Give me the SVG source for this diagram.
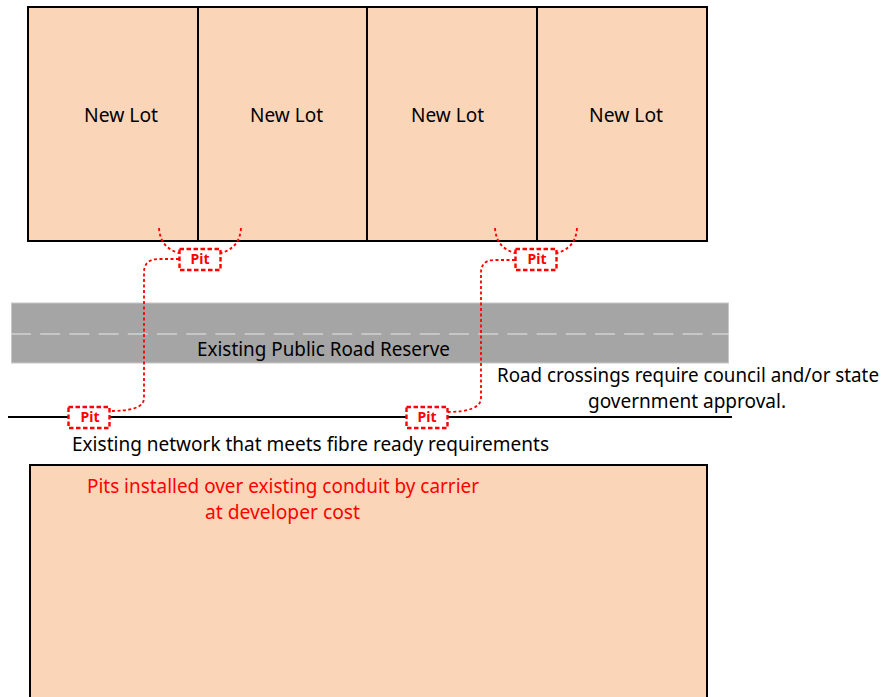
<svg xmlns="http://www.w3.org/2000/svg" width="882" height="697" viewBox="0 0 882 697">
<style>
.lot{fill:#fbd5b7;stroke:#000;stroke-width:2}
.t{font-family:"Noto Sans","Liberation Sans",sans-serif;font-size:20px;fill:#000}
.n{font-size:19px}
.r{fill:#f00}
.pit{fill:#fff;stroke:#f00;stroke-width:2.4;stroke-dasharray:4.500 2.500}
.pt{font-family:"Noto Sans","Liberation Sans",sans-serif;font-size:14px;font-weight:700;fill:#f00;text-anchor:middle}
.c{fill:none;stroke:#f00;stroke-width:1.8;stroke-dasharray:3 2.500}
</style>
<g id="lots">
<g id="lot1"><rect class="lot" x="28" y="7" width="170" height="234"/><text class="t" x="84" y="122" textLength="74" lengthAdjust="spacingAndGlyphs">New Lot</text></g>
<g id="lot2"><rect class="lot" x="198" y="7" width="169" height="234"/><text class="t" x="250" y="122" textLength="73" lengthAdjust="spacingAndGlyphs">New Lot</text></g>
<g id="lot3"><rect class="lot" x="367" y="7" width="170" height="234"/><text class="t" x="411" y="122" textLength="73" lengthAdjust="spacingAndGlyphs">New Lot</text></g>
<g id="lot4"><rect class="lot" x="537" y="7" width="170" height="234"/><text class="t" x="589" y="122" textLength="74" lengthAdjust="spacingAndGlyphs">New Lot</text></g>
</g>
<g id="road">
<rect x="11.500" y="303" width="717" height="60" fill="#a5a5a5" stroke="#c8c8c8" stroke-width="1"/>
<line x1="11" y1="334" x2="729" y2="334" stroke="#e8e8e8" stroke-width="1" stroke-dasharray="20 9.200"/>
<text class="t" x="197" y="356" textLength="253" lengthAdjust="spacingAndGlyphs">Existing Public Road Reserve</text>
</g>
<g id="network">
<line x1="8" y1="417" x2="732" y2="417" stroke="#000" stroke-width="2"/>
<text class="t" x="72" y="451" textLength="477" lengthAdjust="spacingAndGlyphs">Existing network that meets fibre ready requirements</text>
</g>
<g id="connectors">
<path class="c" d="M159 228C160 243 168 250 179 253"/>
<path class="c" d="M241 228C240 243 232 250 221 253"/>
<path class="c" d="M179 259H158C149 259 144 264 144 272V398C144 408 130 411 110 411"/>
<path class="c" d="M495 228C496 243 504 250 515 253"/>
<path class="c" d="M577 228C576 243 568 250 557 253"/>
<path class="c" d="M515 260H494C485 260 481 265 481 273V398C481 408 467 412 448 412"/>
</g>
<g id="pit1"><rect class="pit" x="179.500" y="249" width="41" height="21"/><text class="pt" x="200" y="264">Pit</text></g>
<g id="pit2"><rect class="pit" x="515.500" y="249" width="41" height="21"/><text class="pt" x="537" y="264">Pit</text></g>
<g id="pit3"><rect class="pit" x="68.500" y="407" width="41" height="21"/><text class="pt" x="90" y="422">Pit</text></g>
<g id="pit4"><rect class="pit" x="406.500" y="407" width="41" height="21"/><text class="pt" x="427" y="422">Pit</text></g>
<g id="crossing-note">
<text class="t n" x="497" y="382" textLength="382" lengthAdjust="spacingAndGlyphs">Road crossings require council and/or state</text>
<text class="t n" x="588" y="408" textLength="198" lengthAdjust="spacingAndGlyphs">government approval.</text>
</g>
<g id="development">
<rect class="lot" x="30" y="465" width="677" height="240"/>
<text class="t r" x="87" y="493" textLength="392" lengthAdjust="spacingAndGlyphs">Pits installed over existing conduit by carrier</text>
<text class="t r" x="205" y="519" textLength="155" lengthAdjust="spacingAndGlyphs">at developer cost</text>
</g>
</svg>
